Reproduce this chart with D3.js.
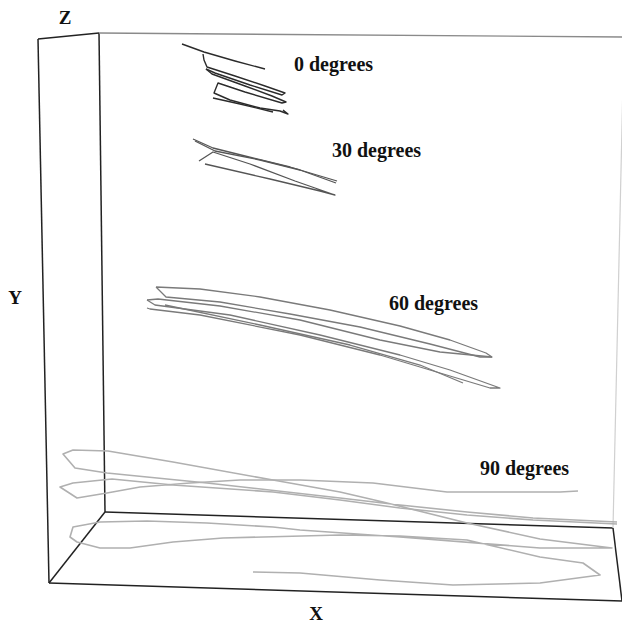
<!DOCTYPE html>
<html>
<head>
<meta charset="utf-8">
<title>Hand trajectories by angle</title>
<script src="https://cdnjs.cloudflare.com/ajax/libs/d3/7.8.5/d3.min.js"></script>
<style>
    body { margin: 0; background: #fff; }
    svg { display: block; }
    .label {
        font-family: "Liberation Serif", "Times New Roman", serif;
        font-weight: bold;
        fill: #111;
    }
</style>
</head>
<body>
<script>
const width = 622;
const height = 623;

// ---- data (mm on the viewing plane) ----
const angleNames = ["0 degrees", "30 degrees", "60 degrees", "90 degrees"];
const axisNames = ["Z", "Y", "X"];

const traj0 = [
    [[162,556],[184,548],[215,539],[245,531]],
    [[183,546],[184,540],[187,533],[215,524],[245,514],[265,507],[262,505],[230,515],[195,527],[186,531]],
    [[186,531],[192,526],[225,514],[252,504],[266,498],[262,497],[225,508],[198,517],[196,512],[194,507],[210,500],[240,492],[260,489],[268,486],[263,490]],
    [[193,502],[220,496],[253,488]]
];

const traj30 = [
    [[173,461],[193,452],[225,444],[270,433],[317,419]],
    [[175,459],[195,449],[240,440],[280,430],[316,417]],
    [[179,439],[193,448],[230,436],[275,419],[315,405],[300,409],[250,421],[185,436]]
];

const traj60 = [
    [[136,313],[180,311],[240,303],[310,290],[380,274],[430,260],[466,247],[472,243],[460,243],[410,256],[340,273],[270,286],[200,298],[146,303],[136,313]],
    [[127,300],[138,301],[200,294],[280,280],[360,260],[420,248],[472,243]],
    [[127,300],[135,295],[210,285],[300,265],[380,245],[430,230],[480,212],[470,212],[420,227],[360,245],[280,265],[180,285],[130,291],[127,292]],
    [[145,295],[240,275],[330,255],[400,235],[443,217]]
];

const traj90 = [
    [[558,109],[540,108],[480,108],[427,108],[353,117],[280,120],[220,120],[170,117],[120,113],[87,107],[57,102],[40,113],[53,117],[92,121],[153,115],[253,108],[320,100],[380,92],[447,85],[513,80],[597,76]],
    [[597,78],[513,82],[447,88],[380,95],[320,102],[187,117],[87,127],[55,132],[43,146],[53,150],[88,149],[153,138],[253,120],[320,108],[363,98],[447,77],[520,61],[592,52],[520,52],[380,63],[280,70],[253,73],[187,77],[127,79],[80,78],[53,73],[50,63],[57,58],[80,52],[110,52],[153,58],[203,62],[320,65],[380,64],[447,60],[520,43],[563,37],[580,25],[520,17],[433,15],[360,20],[280,27],[233,28]]
];

const groups = [traj0, traj30, traj60, traj90];

// ---- layout ----
const groupColor = ["#2b2b2b", "#555", "#7a7a7a", "#b0b0b0"];
const groupWidth = [1.4, 1.3, 1.3, 1.6];
const labelAt = [[274,529], [312,443], [369,290], [460,125]];
const axisLabelAt = [[45,576], [-5,296], [296,-20]];

const x = d3.scaleLinear().domain([0, 600]).range([20, 620]);
const y = d3.scaleLinear().domain([0, 600]).range([600, 0]);

// screen corners of the unit box, key = u v w (X, Y, depth)
const view = {
    "000": [49, 583], "100": [622, 601], "010": [38, 39], "110": [630, 52],
    "001": [105, 512], "101": [613, 528], "011": [99, 33], "111": [624, 37]
};

function project([u, v, w]) {
    const c = k => view[k];
    const lerp = (a, b, t) => [a[0] + (b[0] - a[0]) * t, a[1] + (b[1] - a[1]) * t];
    const f0 = lerp(lerp(c("000"), c("100"), u), lerp(c("010"), c("110"), u), v);
    const f1 = lerp(lerp(c("001"), c("101"), u), lerp(c("011"), c("111"), u), v);
    return lerp(f0, f1, w);
}

const boxEdges = [
    { a: [0,0,0], b: [0,1,0], color: "#222", w: 1.5 },
    { a: [0,1,0], b: [0,1,1], color: "#222", w: 1.5 },
    { a: [0,1,1], b: [0,0,1], color: "#222", w: 1.5 },
    { a: [0,0,0], b: [0,0,1], color: "#222", w: 1.5 },
    { a: [0,0,1], b: [1,0,1], color: "#222", w: 1.5 },
    { a: [1,0,1], b: [1,0,0], color: "#222", w: 1.5 },
    { a: [1,0,0], b: [0,0,0], color: "#222", w: 1.5 },
    { a: [0,1,1], b: [1,1,1], color: "#8a8a8a", w: 1.4 },
    { a: [1,1,1], b: [1,0,1], color: "#d0d0d0", w: 1.2 }
];

const svg = d3.select("body")
    .append("svg")
    .attr("width", width)
    .attr("height", height);

svg.append("g")
    .selectAll("line")
    .data(boxEdges)
    .join("line")
    .attr("x1", d => project(d.a)[0])
    .attr("y1", d => project(d.a)[1])
    .attr("x2", d => project(d.b)[0])
    .attr("y2", d => project(d.b)[1])
    .attr("stroke", d => d.color)
    .attr("stroke-width", d => d.w);

const line = d3.line()
    .x(d => x(d[0]))
    .y(d => y(d[1]));

groups.forEach((strokes, gi) => {
    svg.append("g")
        .selectAll("path")
        .data(strokes)
        .join("path")
        .attr("d", line)
        .attr("fill", "none")
        .attr("stroke", groupColor[gi])
        .attr("stroke-width", groupWidth[gi])
        .attr("stroke-linejoin", "round");
});

svg.append("g")
    .selectAll("text")
    .data(angleNames)
    .join("text")
    .attr("class", "label")
    .attr("x", (d, i) => x(labelAt[i][0]))
    .attr("y", (d, i) => y(labelAt[i][1]))
    .attr("font-size", 20)
    .text(d => d);

svg.append("g")
    .selectAll("text")
    .data(axisNames)
    .join("text")
    .attr("class", "label")
    .attr("text-anchor", "middle")
    .attr("x", (d, i) => x(axisLabelAt[i][0]))
    .attr("y", (d, i) => y(axisLabelAt[i][1]))
    .attr("font-size", 19)
    .text(d => d);
</script>
</body>
</html>
